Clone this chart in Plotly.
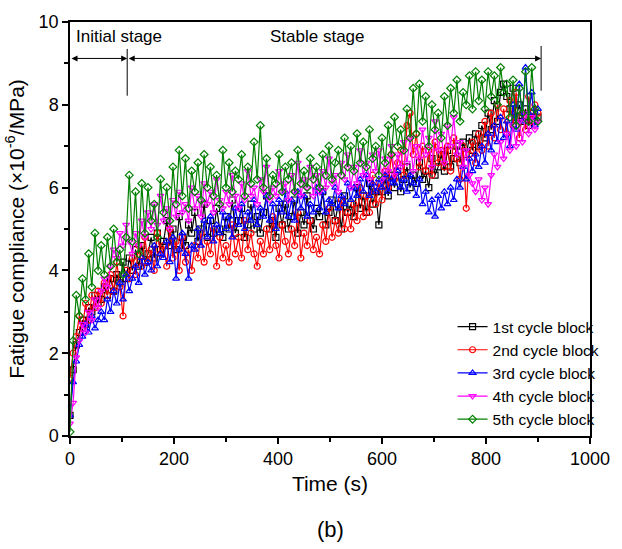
import plotly.graph_objects as go

time_s = list(range(0, 901, 6))

block1 = [
    0.5, 1.6, 2.2, 2.5, 2.8, 2.7, 3.1, 3.0, 3.4, 3.2,
    3.3, 3.6, 3.4, 3.8, 3.5, 3.9, 3.7, 4.2, 3.8, 4.3,
    4.0, 4.5, 4.1, 4.6, 4.2, 4.4, 4.8, 4.3, 4.9, 4.5,
    4.7, 5.2, 4.6, 5.0, 4.5, 5.3, 4.8, 4.6, 5.1, 4.9,
    5.4, 4.7, 5.0, 5.6, 4.8, 5.2, 4.9, 5.5, 5.0, 4.8,
    5.3, 5.0, 5.7, 4.9, 5.2, 5.5, 4.8, 5.1, 5.6, 5.0,
    5.3, 4.9, 5.4, 5.8, 5.0, 5.2, 4.8, 5.5, 5.1, 5.6,
    5.0, 5.3, 5.7, 4.9, 5.4, 5.1, 5.8, 5.2, 5.0, 5.5,
    5.3, 5.9, 5.1, 5.4, 5.7, 5.2, 5.6, 5.0, 5.8, 5.4,
    5.6, 5.3, 6.0, 5.5, 5.8, 5.4, 6.1, 5.6, 5.9, 5.1,
    5.9, 6.2, 5.8, 6.3, 6.0, 6.4, 5.9, 6.2, 6.5, 6.0,
    6.3, 6.1, 6.6, 6.2, 6.4, 6.0, 6.7, 6.3, 6.5, 6.8,
    6.4, 6.9, 6.5, 6.7, 7.0, 6.6, 7.1, 6.8, 7.2, 6.9,
    7.3, 7.0, 7.5, 7.2, 7.8, 7.4, 8.1, 7.6, 8.3, 8.5,
    8.2, 7.9, 8.4, 7.7, 8.0, 7.6, 7.9, 7.5, 7.8, 7.6,
    7.7,
]
block2 = [
    1.4, 2.0, 2.4, 2.9, 2.6, 3.2, 2.8, 3.4, 3.1, 3.5,
    3.2, 3.7, 3.4, 3.9, 3.5, 4.2, 3.6, 2.9, 4.0, 3.8,
    4.3, 3.9, 4.6, 4.1, 4.8, 4.2, 4.5, 4.0, 4.9, 4.4,
    4.6, 4.1, 5.0, 4.3, 4.7, 4.0, 4.8, 4.2, 4.5, 4.0,
    4.6, 4.3, 4.9, 4.2, 4.7, 4.4, 5.0, 4.1, 4.8, 4.3,
    4.6, 4.2, 5.1, 4.4, 4.8, 4.3, 5.2, 4.5, 4.9, 4.4,
    4.1, 4.7, 4.4, 5.0, 4.5, 5.3, 4.6, 4.3, 5.1, 4.7,
    4.4, 5.0, 4.6, 5.4, 4.3, 4.9, 4.6, 5.2, 4.5, 4.8,
    4.4, 5.1, 4.7, 5.5, 4.8, 5.2, 4.9, 5.7, 5.0, 5.4,
    5.0, 5.6, 5.2, 6.0, 5.3, 5.8, 5.4, 6.3, 5.6, 6.1,
    5.7, 6.4, 6.0, 6.8, 6.2, 6.6, 6.9, 6.3, 7.5, 7.8,
    6.8, 7.3, 6.5, 7.0, 6.4, 6.9, 6.3, 7.1, 6.6, 6.9,
    6.5, 7.0, 6.4, 7.2, 6.7, 6.2, 7.0, 5.5, 6.8, 7.1,
    6.6, 7.3, 6.9, 7.6, 7.0, 7.8, 7.2, 8.0, 7.4, 7.9,
    7.3, 8.1, 7.5, 8.3, 7.2, 7.8, 7.4, 8.2, 7.6, 8.0,
    7.8,
]
block3 = [
    0.5, 1.3, 1.8, 2.2, 2.4, 2.7, 2.5, 2.9, 2.6, 2.8,
    3.0, 2.8, 3.3, 3.0, 3.5, 3.2, 3.7, 3.3, 3.9, 3.5,
    3.8, 4.1, 3.7, 4.3, 3.9, 4.2, 4.0, 4.6, 4.1, 4.4,
    4.3, 4.7, 4.2, 4.8, 3.8, 4.5, 4.9, 4.4, 3.8, 4.6,
    4.5, 5.0, 4.6, 5.2, 4.8, 5.3, 4.7, 5.1, 4.9, 5.4,
    5.0, 5.3, 4.8, 5.5, 5.1, 5.6, 5.0, 5.4, 5.2, 5.7,
    5.1, 5.5, 5.3, 5.8, 5.2, 5.6, 5.0, 5.7, 5.4, 5.9,
    5.3, 5.7, 5.2, 5.9, 5.5, 5.8, 5.3, 5.6, 5.4, 6.0,
    5.5, 5.9, 5.4, 5.7, 5.6, 6.0, 5.5, 5.8, 5.6, 6.1,
    5.7, 6.0, 5.8, 6.2, 5.9, 6.3, 5.8, 6.1, 5.9, 6.2,
    6.0, 6.3, 5.9, 6.2, 6.1, 6.4, 6.0, 6.2, 5.9, 6.3,
    6.1, 5.8, 6.2, 5.6, 5.9, 5.4, 5.7, 5.3, 5.8, 5.5,
    5.9, 5.6, 6.0, 5.7, 6.2, 6.0, 6.5, 6.2, 6.7, 6.4,
    6.8, 6.5, 7.0, 6.6, 7.3, 6.9, 7.5, 7.1, 7.7, 7.2,
    7.6, 7.0, 8.0, 7.4, 8.5, 7.6, 8.9, 7.8, 8.3, 7.5,
    7.9,
]
block4 = [
    0.3, 0.8, 1.9, 2.3, 2.7, 2.5, 3.0, 2.8, 3.3, 3.1,
    3.5, 3.8, 3.6, 4.1, 4.5, 4.3, 4.9, 4.6, 5.1, 4.7,
    4.4, 4.9, 4.6, 5.2, 4.8, 5.4, 5.0, 5.6, 5.1, 5.8,
    5.2, 5.5, 5.0, 5.7, 5.3, 5.9, 5.4, 5.6, 5.2, 6.0,
    5.5, 5.8, 5.3, 6.1, 5.6, 5.9, 5.4, 6.2, 5.7, 5.5,
    5.9, 5.6, 6.3, 5.8, 5.5, 6.1, 5.7, 6.4, 5.8, 6.0,
    5.6, 6.2, 5.9, 6.5, 5.7, 6.0, 5.8, 6.4, 5.9, 6.1,
    5.7, 6.3, 5.9, 6.6, 5.8, 6.2, 6.0, 6.5, 5.8, 6.3,
    5.9, 6.4, 6.0, 6.7, 6.1, 6.3, 5.9, 6.6, 6.2, 6.8,
    6.0, 6.5, 6.1, 6.9, 6.3, 6.6, 6.2, 6.8, 6.4, 6.9,
    6.2, 6.7, 6.4, 7.0, 6.3, 6.8, 6.5, 7.1, 6.6, 7.2,
    6.4, 7.0, 6.7, 7.4, 6.8, 7.2, 6.5, 7.6, 6.9, 7.3,
    6.6, 7.5, 7.0, 7.7, 6.8, 7.1, 6.5, 6.9, 6.3, 6.1,
    5.9, 6.2, 5.7, 6.0, 5.6, 6.3, 6.8, 6.5, 7.1, 6.7,
    7.3, 6.9, 7.5, 7.0, 7.6, 7.1, 7.8, 7.3, 7.7, 7.4,
    7.6,
]
block5 = [
    0.1, 2.3, 3.4, 2.9, 3.8, 3.3, 4.4, 3.6, 4.9, 4.0,
    4.6, 3.9, 4.8, 4.1, 5.0, 4.2, 4.5, 3.9, 4.8, 6.3,
    4.7, 5.9, 4.4, 6.1, 4.9, 6.0, 5.2, 5.6, 4.8, 6.2,
    5.4, 6.0, 5.2, 6.5, 5.6, 6.9, 5.8, 6.7, 5.5, 6.4,
    5.9, 6.6, 5.7, 6.8, 6.0, 6.5, 5.8, 6.3, 5.6, 6.9,
    6.0, 6.6, 5.9, 6.4, 6.2, 6.8, 5.8, 6.5, 6.1, 7.1,
    6.2, 7.5, 6.0, 6.7, 5.8, 6.3, 6.1, 6.8, 5.9, 6.5,
    6.2, 6.6, 5.9, 6.9, 6.1, 6.4, 6.0, 6.7, 6.2, 6.5,
    6.0, 6.8, 6.3, 7.0, 6.2, 6.6, 6.9, 6.3, 7.2, 6.5,
    7.0, 6.4, 7.3, 6.6, 7.1, 6.5, 7.4, 6.7, 7.0, 6.3,
    7.2, 6.6, 7.5, 6.8, 7.7, 7.0, 7.4, 6.9, 7.9, 7.2,
    8.4, 7.3, 8.5, 7.6, 8.2, 7.0, 8.0, 7.4, 7.8, 7.2,
    8.2, 7.5, 8.4, 7.8, 8.6, 7.6, 8.3, 8.0, 8.7, 7.9,
    8.8, 8.1, 8.6, 7.9, 8.8, 8.2, 8.7, 8.0, 8.9, 8.3,
    8.5, 7.7, 8.6, 7.5, 8.4, 7.8, 8.8, 7.6, 8.9, 7.9,
    7.6,
]

names = ["1st cycle block", "2nd cycle block", "3rd cycle block",
         "4th cycle block", "5th cycle block"]
colors = ["#000000", "#ff0000", "#0000ff", "#ff00ff", "#008000"]
symbols = ["square-open", "circle-open", "triangle-up-open",
           "triangle-down-open", "diamond-open"]
series = [block1, block2, block3, block4, block5]

FONT = "Liberation Sans, Arial, sans-serif"

fig = go.Figure()
for name, col, sym, ys in zip(names, colors, symbols, series):
    fig.add_trace(go.Scatter(
        x=time_s, y=ys, name=name, mode="lines+markers",
        line=dict(color=col, width=1.2),
        marker=dict(symbol=sym, size=6, color=col, line=dict(color=col, width=1.2)),
    ))

axis_common = dict(
    showline=True, linecolor="black", linewidth=1.5, mirror=True,
    ticks="outside", ticklen=6, tickwidth=1.5, tickcolor="black",
    showgrid=False, zeroline=False,
    tickfont=dict(family=FONT, size=18, color="black"),
)

fig.update_xaxes(
    range=[0, 1000], dtick=200, tick0=0,
    title=dict(text="Time (s)", font=dict(family=FONT, size=21, color="black"), standoff=8),
    minor=dict(dtick=100, ticks="outside", ticklen=4, tickwidth=1.5, tickcolor="black"),
    **axis_common,
)
fig.update_yaxes(
    range=[0, 10], dtick=2, tick0=0,
    title=dict(text="Fatigue compliance (×10<sup>-6</sup>/MPa)",
               font=dict(family=FONT, size=21, color="black"), standoff=8),
    minor=dict(dtick=1, ticks="outside", ticklen=4, tickwidth=1.5, tickcolor="black"),
    **axis_common,
)

# stage arrows
for x0, x1 in [(0, 110), (110, 906)]:
    fig.add_annotation(
        x=x1, y=9.12, ax=x0, ay=9.12, xref="x", yref="y", axref="x", ayref="y",
        text="", showarrow=True, arrowhead=2, arrowside="end+start",
        arrowsize=1.2, arrowwidth=1, arrowcolor="black", standoff=0, startstandoff=0,
    )
fig.add_shape(type="line", x0=110, x1=110, y0=8.22, y1=9.35, xref="x", yref="y",
              line=dict(color="black", width=1))
fig.add_shape(type="line", x0=906, x1=906, y0=8.34, y1=9.42, xref="x", yref="y",
              line=dict(color="black", width=1))
fig.add_annotation(x=8, y=9.65, xref="x", yref="y", text="Initial stage",
                   showarrow=False, xanchor="left",
                   font=dict(family=FONT, size=17, color="black"))
fig.add_annotation(x=476, y=9.65, xref="x", yref="y", text="Stable stage",
                   showarrow=False, xanchor="center",
                   font=dict(family=FONT, size=17, color="black"))
fig.add_annotation(x=0.5, y=-0.225, xref="paper", yref="paper", text="(b)",
                   showarrow=False, yanchor="middle",
                   font=dict(family=FONT, size=22, color="black"))

fig.update_layout(
    width=622, height=549,
    margin=dict(l=70, r=21, t=15, b=113),
    paper_bgcolor="white", plot_bgcolor="white",
    font=dict(family=FONT, color="black"),
    legend=dict(x=1.028, y=0.0, xanchor="right", yanchor="bottom",
                bgcolor="rgba(0,0,0,0)", font=dict(family=FONT, size=15.5, color="black"),
                tracegroupgap=0, itemwidth=30),
    showlegend=True,
)

fig.write_html("out.html")
